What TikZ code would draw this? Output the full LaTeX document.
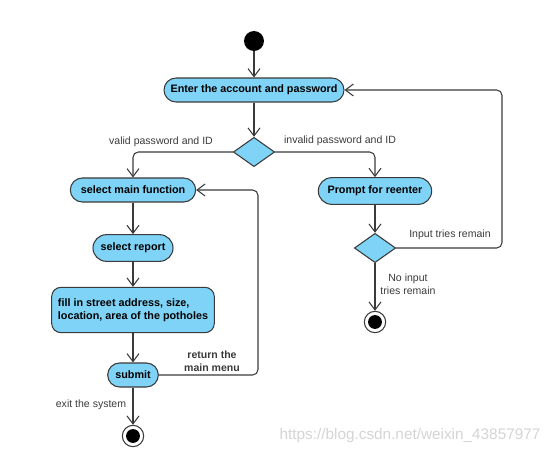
\documentclass[tikz,border=0pt]{standalone}
\usepackage{fontspec}
\setmainfont{Liberation Sans}
\usetikzlibrary{arrows.meta,shapes.geometric}
\definecolor{actfill}{HTML}{7FD3F6}
\definecolor{ink}{HTML}{3A3A3A}
\definecolor{wm}{HTML}{D4D4D4}
\tikzset{
  act/.style={draw=ink,thick,fill=actfill,rounded corners=9pt,align=center,font=\fontsize{8.1}{9.6}\selectfont\bfseries,minimum height=18pt,inner sep=2pt},
  dec/.style={draw=ink,thick,fill=actfill,shape=diamond,minimum width=31pt,minimum height=22pt,inner sep=0pt},
  startdot/.style={circle,fill=black,minimum size=15pt,inner sep=0pt},
  enddot/.style={circle,draw=ink,thick,fill=white,minimum size=16pt,inner sep=0pt,path picture={\fill[black] (path picture bounding box.center) circle (5.2pt);}},
  arr/.style={-{Straight Barb[length=6pt,width=9pt]},thick,color=ink,rounded corners=4pt},
  lbl/.style={font=\fontsize{7.9}{9.4}\selectfont,color=ink,align=center,inner sep=1pt}}
\begin{document}
\begin{tikzpicture}[x=0.75pt,y=-0.75pt]
\useasboundingbox (0,0) rectangle (554,453);
% states
\node[startdot] (start) at (254,41) {};
\node[act,minimum width=135pt] (enter) at (254,90) {Enter the account and password};
\node[dec] (check) at (254,152) {};
\node[act,minimum width=94pt] (selmain) at (133,190) {select main function};
\node[act,minimum width=60pt,minimum height=20pt,rounded corners=10pt] (report) at (133,248) {select report};
\node[act,minimum width=122pt,minimum height=34pt,rounded corners=7pt,align=left] (fill) at (133,310) {fill in street address, size,\\location, area of the potholes};
\node[act,minimum width=38pt] (submit) at (133,375) {submit};
\node[enddot] (endl) at (133,436) {};
\node[act,minimum width=85pt,minimum height=20pt,rounded corners=10pt] (prompt) at (375,191) {Prompt for reenter};
\node[dec] (tries) at (375,248) {};
\node[enddot] (endr) at (375,322) {};
\coordinate (retcorner) at (258,190);
\coordinate (trycorner) at (502,90);
% flows
\draw[arr] (start) -- (enter);
\draw[arr] (enter) -- (check);
\draw[arr] (check.west) -| (selmain.north);
\draw[arr] (check.east) -| (prompt.north);
\draw[arr] (selmain) -- (report);
\draw[arr] (report) -- (fill);
\draw[arr] (fill) -- (submit);
\draw[arr] (submit) -- (endl);
\draw[arr] (submit.east) -| (retcorner) -- (selmain.east);
\draw[arr] (prompt) -- (tries);
\draw[arr] (tries) -- (endr);
\draw[arr] (tries.east) -| (trycorner) -- (enter.east);
% guards
\node[lbl] (lvalid) at (161,142) {valid password and ID};
\node[lbl] (linvalid) at (340,141) {invalid password and ID};
\node[lbl,font=\fontsize{7.9}{9.4}\selectfont\bfseries] (lreturn) at (212,361) {return the\\main menu};
\node[lbl] (lexit) at (91,405) {exit the system};
\node[lbl] (lremain) at (450,235) {Input tries remain};
\node[lbl] (lnoremain) at (408,284) {No input\\tries remain};
\node[font=\fontsize{11.5}{13}\selectfont,color=wm] (mark) at (410,436) {https://blog.csdn.net/weixin\_43857977};
\end{tikzpicture}
\end{document}
